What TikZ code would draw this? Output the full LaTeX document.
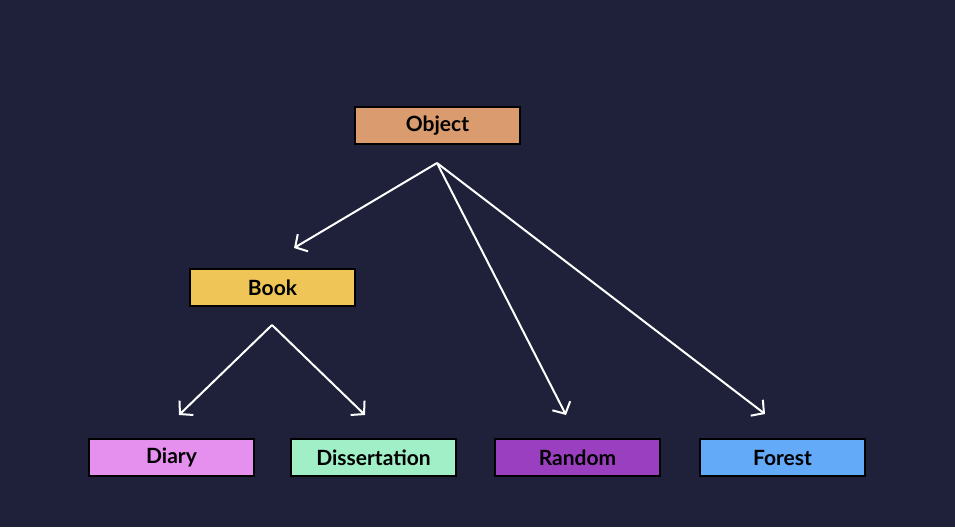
\documentclass[tikz,border=0pt]{standalone}
\usepackage{fontspec}
\setmainfont{Lato}
\usetikzlibrary{arrows.meta}
\definecolor{bg}{HTML}{1E2139}
\definecolor{cobj}{HTML}{DA9B6E}
\definecolor{cbook}{HTML}{F0C557}
\definecolor{cdiary}{HTML}{E58FEE}
\definecolor{cdiss}{HTML}{A0EFC7}
\definecolor{crand}{HTML}{9B3FC1}
\definecolor{cfor}{HTML}{63AAF8}
\tikzset{
  box/.style={draw=black, line width=2pt, minimum width=165pt, minimum height=37pt, inner sep=0pt, font=\bfseries\fontsize{21}{24}\selectfont, text=black},
  link/.style={draw=white, line width=2pt, -{Straight Barb[length=9pt,width=20pt,line width=2pt]}}
}
\begin{document}
\begin{tikzpicture}[x=1pt,y=-1pt]
\fill[bg] (0,0) rectangle (955,527);
\useasboundingbox (0,0) rectangle (955,527);
\node[box, fill=cobj] (obj) at (437.5,125.5) {Object};
\node[box, fill=cbook] (book) at (272.5,287.5) {Book};
\node[box, fill=cdiary] (diary) at (171.5,457.5) {Diary};
\node[box, fill=cdiss] (diss) at (373.5,457.5) {Dissertation};
\node[box, fill=crand] (rand) at (577.5,457.5) {Random};
\node[box, fill=cfor] (forest) at (782.5,457.5) {Forest};
\coordinate (os) at (437,163);
\coordinate (bs) at (272,325);
\coordinate (tbook) at (294,248);
\coordinate (trand) at (566,415);
\coordinate (tfor) at (765,414);
\coordinate (tdiary) at (179,415);
\coordinate (tdiss) at (365,415);
\draw[link] (os) -- (tbook);
\draw[link] (os) -- (trand);
\draw[link] (os) -- (tfor);
\draw[link] (bs) -- (tdiary);
\draw[link] (bs) -- (tdiss);
\end{tikzpicture}
\end{document}
